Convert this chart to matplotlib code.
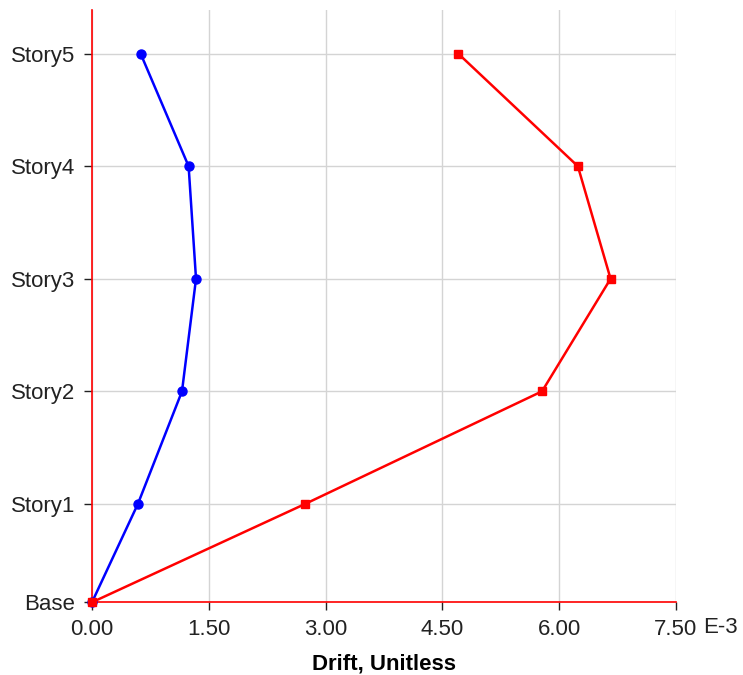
import matplotlib
matplotlib.use("Agg")
import matplotlib.pyplot as plt

# story levels (elevation) and drift values (E-3)
stories = ["Base", "Story1", "Story2", "Story3", "Story4", "Story5"]
elev = [0, 3.5, 7.5, 11.5, 15.5, 19.5]
drift_blue = [0.0, 0.59, 1.156, 1.336, 1.241, 0.625]
drift_red = [0.0, 2.74, 5.78, 6.66, 6.24, 4.705]
xticks = [0, 1.5, 3.0, 4.5, 6.0, 7.5]

plt.rcParams['font.family'] = ['Liberation Sans', 'DejaVu Sans']

fig = plt.figure(figsize=(7.43, 6.75), dpi=100)
ax = fig.add_axes([0.1238, 0.1077, 0.7860, 0.8773])

ax.plot(drift_blue, elev, color='blue', lw=1.8, marker='o', ms=6.5, clip_on=False, zorder=3)
ax.plot(drift_red, elev, color='red', lw=1.8, marker='s', ms=5.8, clip_on=False, zorder=4)

ax.set_xlim(0, 7.5)
ax.set_ylim(0, 21.05)
ax.set_xticks(xticks)
ax.set_xticklabels(["%.2f" % v for v in xticks])
ax.set_yticks(elev)
ax.set_yticklabels(stories)

ax.grid(True, color='#d4d4d4', lw=1)
ax.set_axisbelow(True)
for s in ['top', 'right']:
    ax.spines[s].set_visible(False)
for s in ['left', 'bottom']:
    ax.spines[s].set_color('red')
    ax.spines[s].set_linewidth(1.2)

ax.tick_params(axis='both', labelsize=16, colors='#222222', length=6, width=1, pad=6)

# exponent marker to the right of the last tick label
ax.annotate("E-3", xy=(1.0, 0.0), xycoords='axes fraction', xytext=(19.5, -10.5),
            textcoords='offset points', ha='left', va='top', fontsize=16, color='#222222')
ax.set_xlabel("Drift, Unitless", fontsize=16, fontweight='bold', labelpad=10)

fig.savefig("out.png", dpi=100)
